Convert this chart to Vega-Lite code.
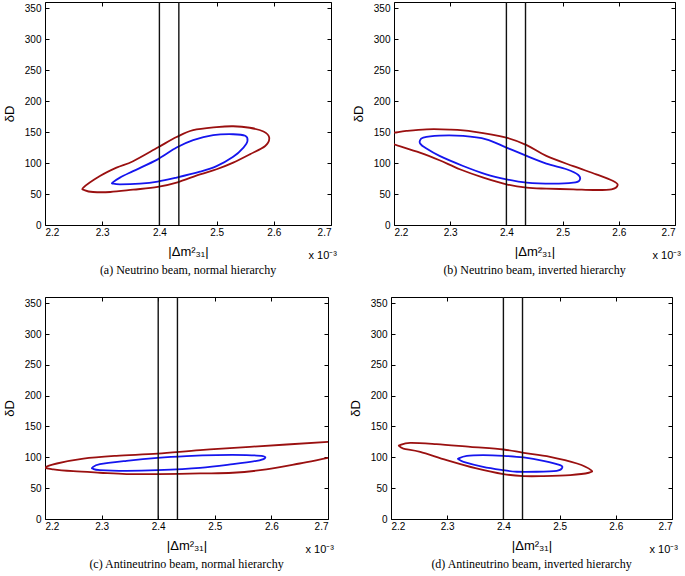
{
  "$schema": "https://vega.github.io/schema/vega-lite/v6.json",
  "padding": {"left": 2, "top": 0, "right": 0, "bottom": 0},
  "background": "white",
  "config": {
    "view": {"stroke": "#000", "strokeWidth": 1},
    "axis": {"grid": false, "domain": false, "tickColor": "#000", "tickSize": -4, "labelFont": "Liberation Sans", "labelFontSize": 10, "labelColor": "#000", "titleFont": "Liberation Sans", "titleFontSize": 13, "titleFontWeight": "normal", "titleColor": "#000"},
    "title": {"font": "Liberation Serif", "fontSize": 12, "fontWeight": "normal", "color": "#000", "offset": 4, "orient": "bottom"}
  },
  "datasets": {
    "curves": [
      {"p":"a","c":"r","i":0,"x":2.267,"y":60.3},{"p":"a","c":"r","i":1,"x":2.296,"y":79},{"p":"a","c":"r","i":2,"x":2.325,"y":92.6},{"p":"a","c":"r","i":3,"x":2.354,"y":103},{"p":"a","c":"r","i":4,"x":2.397,"y":125},{"p":"a","c":"r","i":5,"x":2.43,"y":142},{"p":"a","c":"r","i":6,"x":2.459,"y":153},{"p":"a","c":"r","i":7,"x":2.5,"y":158},{"p":"a","c":"r","i":8,"x":2.529,"y":159.4},{"p":"a","c":"r","i":9,"x":2.558,"y":157},{"p":"a","c":"r","i":10,"x":2.582,"y":151},{"p":"a","c":"r","i":11,"x":2.592,"y":141},{"p":"a","c":"r","i":12,"x":2.585,"y":127.6},{"p":"a","c":"r","i":13,"x":2.558,"y":114},{"p":"a","c":"r","i":14,"x":2.529,"y":100.7},{"p":"a","c":"r","i":15,"x":2.5,"y":90},{"p":"a","c":"r","i":16,"x":2.471,"y":81.8},{"p":"a","c":"r","i":17,"x":2.43,"y":68.4},{"p":"a","c":"r","i":18,"x":2.397,"y":61.4},{"p":"a","c":"r","i":19,"x":2.354,"y":57},{"p":"a","c":"r","i":20,"x":2.314,"y":53.3},{"p":"a","c":"r","i":21,"x":2.284,"y":53.3},{"p":"a","c":"r","i":22,"x":2.27,"y":56},
      {"p":"a","c":"b","i":0,"x":2.318,"y":68.4},{"p":"a","c":"b","i":1,"x":2.331,"y":76.5},{"p":"a","c":"b","i":2,"x":2.354,"y":87},{"p":"a","c":"b","i":3,"x":2.397,"y":106},{"p":"a","c":"b","i":4,"x":2.43,"y":125},{"p":"a","c":"b","i":5,"x":2.459,"y":137},{"p":"a","c":"b","i":6,"x":2.494,"y":145},{"p":"a","c":"b","i":7,"x":2.529,"y":146.5},{"p":"a","c":"b","i":8,"x":2.55,"y":144},{"p":"a","c":"b","i":9,"x":2.554,"y":135.7},{"p":"a","c":"b","i":10,"x":2.547,"y":125},{"p":"a","c":"b","i":11,"x":2.529,"y":110},{"p":"a","c":"b","i":12,"x":2.5,"y":95},{"p":"a","c":"b","i":13,"x":2.471,"y":86},{"p":"a","c":"b","i":14,"x":2.43,"y":76.5},{"p":"a","c":"b","i":15,"x":2.397,"y":70},{"p":"a","c":"b","i":16,"x":2.366,"y":66.8},{"p":"a","c":"b","i":17,"x":2.331,"y":65.7},{"p":"a","c":"b","i":18,"x":2.319,"y":66.8},
      {"p":"b","c":"r","i":0,"x":2.2,"y":149},{"p":"b","c":"r","i":1,"x":2.222,"y":151.9},{"p":"b","c":"r","i":2,"x":2.258,"y":154.5},{"p":"b","c":"r","i":3,"x":2.299,"y":154},{"p":"b","c":"r","i":4,"x":2.341,"y":150.8},{"p":"b","c":"r","i":5,"x":2.4,"y":141},{"p":"b","c":"r","i":6,"x":2.436,"y":129},{"p":"b","c":"r","i":7,"x":2.471,"y":111.5},{"p":"b","c":"r","i":8,"x":2.519,"y":95},{"p":"b","c":"r","i":9,"x":2.56,"y":81.8},{"p":"b","c":"r","i":10,"x":2.59,"y":71},{"p":"b","c":"r","i":11,"x":2.598,"y":64.6},{"p":"b","c":"r","i":12,"x":2.587,"y":57.6},{"p":"b","c":"r","i":13,"x":2.555,"y":56.5},{"p":"b","c":"r","i":14,"x":2.519,"y":57.6},{"p":"b","c":"r","i":15,"x":2.471,"y":58.7},{"p":"b","c":"r","i":16,"x":2.436,"y":60.3},{"p":"b","c":"r","i":17,"x":2.4,"y":65.7},{"p":"b","c":"r","i":18,"x":2.359,"y":76.5},{"p":"b","c":"r","i":19,"x":2.317,"y":90},{"p":"b","c":"r","i":20,"x":2.281,"y":104.5},{"p":"b","c":"r","i":21,"x":2.246,"y":116.9},{"p":"b","c":"r","i":22,"x":2.2,"y":130.3},{"p":"b","c":"r","i":23,"x":2.17,"y":139.5},{"p":"b","c":"r","i":24,"x":2.17,"y":145},
      {"p":"b","c":"b","i":0,"x":2.246,"y":135.7},{"p":"b","c":"b","i":1,"x":2.252,"y":141},{"p":"b","c":"b","i":2,"x":2.281,"y":144.3},{"p":"b","c":"b","i":3,"x":2.323,"y":143.8},{"p":"b","c":"b","i":4,"x":2.364,"y":138.4},{"p":"b","c":"b","i":5,"x":2.4,"y":125},{"p":"b","c":"b","i":6,"x":2.436,"y":111.5},{"p":"b","c":"b","i":7,"x":2.471,"y":99},{"p":"b","c":"b","i":8,"x":2.507,"y":90},{"p":"b","c":"b","i":9,"x":2.528,"y":80.8},{"p":"b","c":"b","i":10,"x":2.53,"y":72},{"p":"b","c":"b","i":11,"x":2.519,"y":68.4},{"p":"b","c":"b","i":12,"x":2.483,"y":66.8},{"p":"b","c":"b","i":13,"x":2.436,"y":68.4},{"p":"b","c":"b","i":14,"x":2.4,"y":73.8},{"p":"b","c":"b","i":15,"x":2.364,"y":81.8},{"p":"b","c":"b","i":16,"x":2.323,"y":95.3},{"p":"b","c":"b","i":17,"x":2.281,"y":111.5},{"p":"b","c":"b","i":18,"x":2.255,"y":125},{"p":"b","c":"b","i":19,"x":2.247,"y":131},
      {"p":"c","c":"r","i":0,"x":2.76,"y":128.5},{"p":"c","c":"r","i":1,"x":2.7,"y":125},{"p":"c","c":"r","i":2,"x":2.562,"y":117},{"p":"c","c":"r","i":3,"x":2.474,"y":111.7},{"p":"c","c":"r","i":4,"x":2.399,"y":106},{"p":"c","c":"r","i":5,"x":2.326,"y":102.5},{"p":"c","c":"r","i":6,"x":2.268,"y":98},{"p":"c","c":"r","i":7,"x":2.221,"y":90},{"p":"c","c":"r","i":8,"x":2.201,"y":83.6},{"p":"c","c":"r","i":9,"x":2.215,"y":80.5},{"p":"c","c":"r","i":10,"x":2.25,"y":77.5},{"p":"c","c":"r","i":11,"x":2.297,"y":75},{"p":"c","c":"r","i":12,"x":2.344,"y":72.8},{"p":"c","c":"r","i":13,"x":2.399,"y":72.8},{"p":"c","c":"r","i":14,"x":2.474,"y":73.9},{"p":"c","c":"r","i":15,"x":2.532,"y":75},{"p":"c","c":"r","i":16,"x":2.591,"y":80.4},{"p":"c","c":"r","i":17,"x":2.65,"y":90},{"p":"c","c":"r","i":18,"x":2.7,"y":99},{"p":"c","c":"r","i":19,"x":2.76,"y":109.5},
      {"p":"c","c":"b","i":0,"x":2.284,"y":83.6},{"p":"c","c":"b","i":1,"x":2.297,"y":89},{"p":"c","c":"b","i":2,"x":2.344,"y":94.4},{"p":"c","c":"b","i":3,"x":2.399,"y":99.2},{"p":"c","c":"b","i":4,"x":2.45,"y":102},{"p":"c","c":"b","i":5,"x":2.503,"y":103.6},{"p":"c","c":"b","i":6,"x":2.556,"y":103.6},{"p":"c","c":"b","i":7,"x":2.585,"y":102},{"p":"c","c":"b","i":8,"x":2.588,"y":98.2},{"p":"c","c":"b","i":9,"x":2.574,"y":94.4},{"p":"c","c":"b","i":10,"x":2.532,"y":89},{"p":"c","c":"b","i":11,"x":2.474,"y":83},{"p":"c","c":"b","i":12,"x":2.399,"y":79.3},{"p":"c","c":"b","i":13,"x":2.344,"y":78.2},{"p":"c","c":"b","i":14,"x":2.297,"y":79.3},{"p":"c","c":"b","i":15,"x":2.285,"y":81.4},
      {"p":"d","c":"r","i":0,"x":2.216,"y":119.7},{"p":"d","c":"r","i":1,"x":2.234,"y":123.5},{"p":"d","c":"r","i":2,"x":2.281,"y":121.4},{"p":"d","c":"r","i":3,"x":2.341,"y":117},{"p":"d","c":"r","i":4,"x":2.4,"y":112.7},{"p":"d","c":"r","i":5,"x":2.436,"y":107.3},{"p":"d","c":"r","i":6,"x":2.483,"y":100.9},{"p":"d","c":"r","i":7,"x":2.531,"y":90},{"p":"d","c":"r","i":8,"x":2.556,"y":79.3},{"p":"d","c":"r","i":9,"x":2.552,"y":75},{"p":"d","c":"r","i":10,"x":2.519,"y":71.2},{"p":"d","c":"r","i":11,"x":2.471,"y":69.6},{"p":"d","c":"r","i":12,"x":2.436,"y":69.6},{"p":"d","c":"r","i":13,"x":2.4,"y":72.8},{"p":"d","c":"r","i":14,"x":2.352,"y":82},{"p":"d","c":"r","i":15,"x":2.299,"y":95.5},{"p":"d","c":"r","i":16,"x":2.252,"y":109},{"p":"d","c":"r","i":17,"x":2.222,"y":114.3},{"p":"d","c":"r","i":18,"x":2.215,"y":118},
      {"p":"d","c":"b","i":0,"x":2.32,"y":98.2},{"p":"d","c":"b","i":1,"x":2.335,"y":102.5},{"p":"d","c":"b","i":2,"x":2.364,"y":103.6},{"p":"d","c":"b","i":3,"x":2.4,"y":102.5},{"p":"d","c":"b","i":4,"x":2.436,"y":99.8},{"p":"d","c":"b","i":5,"x":2.471,"y":94.4},{"p":"d","c":"b","i":6,"x":2.501,"y":87.4},{"p":"d","c":"b","i":7,"x":2.504,"y":82},{"p":"d","c":"b","i":8,"x":2.495,"y":78.2},{"p":"d","c":"b","i":9,"x":2.459,"y":76.6},{"p":"d","c":"b","i":10,"x":2.424,"y":76.6},{"p":"d","c":"b","i":11,"x":2.4,"y":79.3},{"p":"d","c":"b","i":12,"x":2.364,"y":84.7},{"p":"d","c":"b","i":13,"x":2.329,"y":92.8},{"p":"d","c":"b","i":14,"x":2.321,"y":96.6}
    ],
    "vlines": [{"x": 2.4}, {"x": 2.434}]
  },
  "vconcat": [
    {"hconcat": [
      {"width": 286, "height": 223, "title": {"text": "(a)  Neutrino beam, normal hierarchy"},
       "resolve": {"axis": {"x": "independent", "y": "independent"}},
       "layer": [
        {"data": {"name": "curves"}, "transform": [{"filter": "datum.p === 'a'"}],
         "mark": {"type": "line", "interpolate": "cardinal-closed", "clip": true, "strokeWidth": 1.8},
         "encoding": {
          "x": {"field": "x", "type": "quantitative", "scale": {"domain": [2.2, 2.7], "nice": false, "zero": false}, "axis": {"orient": "bottom", "values": [2.2, 2.3, 2.4, 2.5, 2.6, 2.7], "format": ".1f", "labelPadding": 6, "title": "|Δm²₃₁|", "titlePadding": 8}},
          "y": {"field": "y", "type": "quantitative", "scale": {"domain": [0, 360], "nice": false}, "axis": {"orient": "left", "values": [0, 50, 100, 150, 200, 250, 300, 350], "labelPadding": 8, "title": "δD", "titlePadding": 8}},
          "color": {"field": "c", "type": "nominal", "scale": {"domain": ["r", "b"], "range": ["#9a1010", "#1515ee"]}, "legend": null},
          "order": {"field": "i", "type": "quantitative"}}},
        {"data": {"name": "vlines"}, "mark": {"type": "rule", "color": "#111", "strokeWidth": 1.4},
         "encoding": {"x": {"field": "x", "type": "quantitative", "axis": {"orient": "top", "values": [2.2, 2.3, 2.4, 2.5, 2.6, 2.7], "labels": false, "title": null}}}},
        {"data": {"values": [{}]}, "mark": {"type": "text", "text": "x 10⁻³", "font": "Liberation Sans", "fontSize": 11, "align": "right", "baseline": "alphabetic", "dx": 6, "dy": 34},
         "encoding": {"x": {"datum": 2.7, "axis": null}, "y": {"datum": 0, "axis": {"orient": "right", "values": [0, 50, 100, 150, 200, 250, 300, 350], "labels": false, "title": null}}}}
       ]},
      {"width": 281, "height": 223, "title": {"text": "(b)  Neutrino beam, inverted hierarchy"},
       "resolve": {"axis": {"x": "independent", "y": "independent"}},
       "layer": [
        {"data": {"name": "curves"}, "transform": [{"filter": "datum.p === 'b'"}],
         "mark": {"type": "line", "interpolate": "cardinal-closed", "clip": true, "strokeWidth": 1.8},
         "encoding": {
          "x": {"field": "x", "type": "quantitative", "scale": {"domain": [2.2, 2.7], "nice": false, "zero": false}, "axis": {"orient": "bottom", "values": [2.2, 2.3, 2.4, 2.5, 2.6, 2.7], "format": ".1f", "labelPadding": 6, "title": "|Δm²₃₁|", "titlePadding": 8}},
          "y": {"field": "y", "type": "quantitative", "scale": {"domain": [0, 360], "nice": false}, "axis": {"orient": "left", "values": [0, 50, 100, 150, 200, 250, 300, 350], "labelPadding": 8, "title": "δD", "titlePadding": 8}},
          "color": {"field": "c", "type": "nominal", "scale": {"domain": ["r", "b"], "range": ["#9a1010", "#1515ee"]}, "legend": null},
          "order": {"field": "i", "type": "quantitative"}}},
        {"data": {"name": "vlines"}, "mark": {"type": "rule", "color": "#111", "strokeWidth": 1.4},
         "encoding": {"x": {"field": "x", "type": "quantitative", "axis": {"orient": "top", "values": [2.2, 2.3, 2.4, 2.5, 2.6, 2.7], "labels": false, "title": null}}}},
        {"data": {"values": [{}]}, "mark": {"type": "text", "text": "x 10⁻³", "font": "Liberation Sans", "fontSize": 11, "align": "right", "baseline": "alphabetic", "dx": 6, "dy": 34},
         "encoding": {"x": {"datum": 2.7, "axis": null}, "y": {"datum": 0, "axis": {"orient": "right", "values": [0, 50, 100, 150, 200, 250, 300, 350], "labels": false, "title": null}}}}
       ]}
    ], "spacing": 13},
    {"hconcat": [
      {"width": 283, "height": 222, "title": {"text": "(c)  Antineutrino beam, normal hierarchy"},
       "resolve": {"axis": {"x": "independent", "y": "independent"}},
       "layer": [
        {"data": {"name": "curves"}, "transform": [{"filter": "datum.p === 'c'"}],
         "mark": {"type": "line", "interpolate": "cardinal-closed", "clip": true, "strokeWidth": 1.8},
         "encoding": {
          "x": {"field": "x", "type": "quantitative", "scale": {"domain": [2.2, 2.7], "nice": false, "zero": false}, "axis": {"orient": "bottom", "values": [2.2, 2.3, 2.4, 2.5, 2.6, 2.7], "format": ".1f", "labelPadding": 6, "title": "|Δm²₃₁|", "titlePadding": 8}},
          "y": {"field": "y", "type": "quantitative", "scale": {"domain": [0, 360], "nice": false}, "axis": {"orient": "left", "values": [0, 50, 100, 150, 200, 250, 300, 350], "labelPadding": 8, "title": "δD", "titlePadding": 8}},
          "color": {"field": "c", "type": "nominal", "scale": {"domain": ["r", "b"], "range": ["#9a1010", "#1515ee"]}, "legend": null},
          "order": {"field": "i", "type": "quantitative"}}},
        {"data": {"name": "vlines"}, "mark": {"type": "rule", "color": "#111", "strokeWidth": 1.4},
         "encoding": {"x": {"field": "x", "type": "quantitative", "axis": {"orient": "top", "values": [2.2, 2.3, 2.4, 2.5, 2.6, 2.7], "labels": false, "title": null}}}},
        {"data": {"values": [{}]}, "mark": {"type": "text", "text": "x 10⁻³", "font": "Liberation Sans", "fontSize": 11, "align": "right", "baseline": "alphabetic", "dx": 6, "dy": 34},
         "encoding": {"x": {"datum": 2.7, "axis": null}, "y": {"datum": 0, "axis": {"orient": "right", "values": [0, 50, 100, 150, 200, 250, 300, 350], "labels": false, "title": null}}}}
       ]},
      {"width": 281, "height": 222, "title": {"text": "(d)  Antineutrino beam, inverted hierarchy"},
       "resolve": {"axis": {"x": "independent", "y": "independent"}},
       "layer": [
        {"data": {"name": "curves"}, "transform": [{"filter": "datum.p === 'd'"}],
         "mark": {"type": "line", "interpolate": "cardinal-closed", "clip": true, "strokeWidth": 1.8},
         "encoding": {
          "x": {"field": "x", "type": "quantitative", "scale": {"domain": [2.2, 2.7], "nice": false, "zero": false}, "axis": {"orient": "bottom", "values": [2.2, 2.3, 2.4, 2.5, 2.6, 2.7], "format": ".1f", "labelPadding": 6, "title": "|Δm²₃₁|", "titlePadding": 8}},
          "y": {"field": "y", "type": "quantitative", "scale": {"domain": [0, 360], "nice": false}, "axis": {"orient": "left", "values": [0, 50, 100, 150, 200, 250, 300, 350], "labelPadding": 8, "title": "δD", "titlePadding": 8}},
          "color": {"field": "c", "type": "nominal", "scale": {"domain": ["r", "b"], "range": ["#9a1010", "#1515ee"]}, "legend": null},
          "order": {"field": "i", "type": "quantitative"}}},
        {"data": {"name": "vlines"}, "mark": {"type": "rule", "color": "#111", "strokeWidth": 1.4},
         "encoding": {"x": {"field": "x", "type": "quantitative", "axis": {"orient": "top", "values": [2.2, 2.3, 2.4, 2.5, 2.6, 2.7], "labels": false, "title": null}}}},
        {"data": {"values": [{}]}, "mark": {"type": "text", "text": "x 10⁻³", "font": "Liberation Sans", "fontSize": 11, "align": "right", "baseline": "alphabetic", "dx": 6, "dy": 34},
         "encoding": {"x": {"datum": 2.7, "axis": null}, "y": {"datum": 0, "axis": {"orient": "right", "values": [0, 50, 100, 150, 200, 250, 300, 350], "labels": false, "title": null}}}}
       ]}
    ], "spacing": 13}
  ],
  "spacing": 18
}
